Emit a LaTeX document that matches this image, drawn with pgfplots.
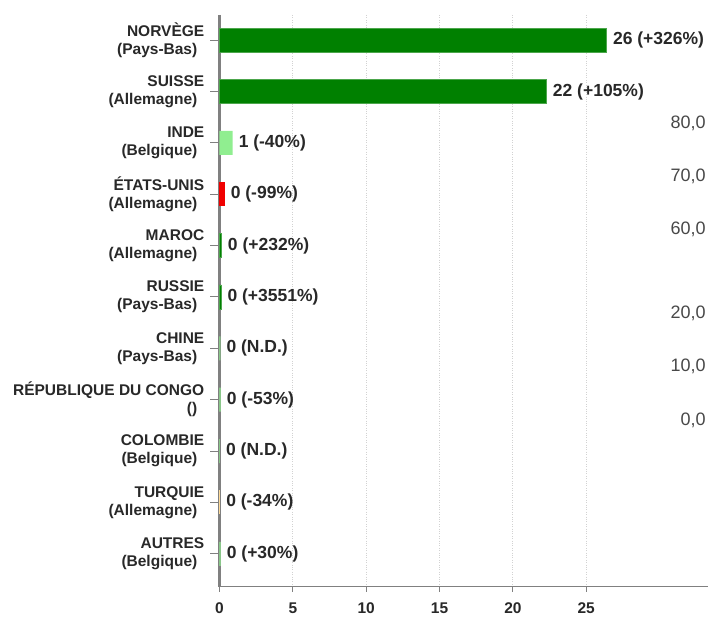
\documentclass[border=0pt]{standalone}
\usepackage{pgfplots}
\pgfplotsset{compat=1.18}
\usepackage{fontspec}
\setmainfont{Liberation Sans}
\definecolor{barDark}{RGB}{0,128,0}
\definecolor{barLight}{RGB}{144,238,144}
\definecolor{barRed}{RGB}{240,0,0}
\definecolor{barOrange}{RGB}{255,165,0}
\definecolor{axisgray}{RGB}{128,128,128}
\definecolor{labeltext}{RGB}{40,40,40}

\begin{document}
\begin{tikzpicture}
\begin{axis}[name=ax,
             scale only axis,
             width=488.5pt, height=571.7pt,
             xbar, bar width=24pt, bar shift=0pt,
             xmin=0, xmax=33.3,
             ymin=-0.49, ymax=10.64, y dir=reverse,
             axis x line*=bottom, axis y line*=left,
             axis line style={-, draw=axisgray},
             x axis line style={line width=1.5pt},
             y axis line style={line width=2.2pt},
             tick align=outside,
             major tick length=9pt,
             tick style={draw=axisgray, line width=1pt},
             xtick style={/pgfplots/major tick length=5pt},
             xtick={0,5,10,15,20,25},
             xticklabels={0,5,10,15,20,25},
             xticklabel style={font=\fontsize{15.5}{17}\selectfont\bfseries, text=labeltext, inner sep=0pt, yshift=-7pt},
             ytick={0,1,...,10},
             yticklabels={NORVÈGE\\(Pays-Bas)\hspace*{7pt},
                          SUISSE\\(Allemagne)\hspace*{7pt},
                          INDE\\(Belgique)\hspace*{7pt},
                          ÉTATS-UNIS\\(Allemagne)\hspace*{7pt},
                          MAROC\\(Allemagne)\hspace*{7pt},
                          RUSSIE\\(Pays-Bas)\hspace*{7pt},
                          CHINE\\(Pays-Bas)\hspace*{7pt},
                          RÉPUBLIQUE DU CONGO\\()\hspace*{7pt},
                          COLOMBIE\\(Belgique)\hspace*{7pt},
                          TURQUIE\\(Allemagne)\hspace*{7pt},
                          AUTRES\\(Belgique)\hspace*{7pt}},
             yticklabel style={font=\fontsize{15.5}{18}\selectfont\bfseries, text=labeltext, align=right, inner sep=0pt, xshift=-6pt},
             xmajorgrids,
             grid style={dotted, gray!35, line width=0.8pt},
             clip=false,
             nodes near coords,
             point meta=explicit symbolic,
             every node near coord/.append style={anchor=west, inner sep=0pt, xshift=6pt,
                 font=\fontsize{17.5}{20}\selectfont\bfseries, text=labeltext},
            ]

    % dark green
    \addplot[fill=barDark, draw=barDark!70!white, line width=0.6pt]
        coordinates {(26.4,0) [26 (+326\%)] (22.3,1) [22 (+105\%)]
                     (0.15,4) [0 (+232\%)] (0.12,5) [0 (+3551\%)]};
    % light green
    \addplot[fill=barLight, draw=none]
        coordinates {(0.89,2) [1 (-40\%)] (0.06,6) [0 (N.D.)] (0.08,7) [0 (-53\%)]
                     (0.03,8) [0 (N.D.)] (0.08,10) [0 (+30\%)]};
    % red
    \addplot[fill=barRed, draw=none]
        coordinates {(0.35,3) [0 (-99\%)]};
    % orange
    \addplot[fill=barOrange!40, draw=none]
        coordinates {(0.04,9) [0 (-34\%)]};

    % stray labels on the right side
    \begin{scope}[every node/.style={anchor=east, inner sep=0pt, text=labeltext!85,
                                     font=\fontsize{18}{20}\selectfont}]
    \node at (axis cs:33.16,1.617) {80,0};
    \node at (axis cs:33.16,2.65) {70,0};
    \node at (axis cs:33.16,3.68) {60,0};
    \node at (axis cs:33.16,5.32) {20,0};
    \node at (axis cs:33.16,6.35) {10,0};
    \node at (axis cs:33.16,7.40) {0,0};
    \end{scope}
\end{axis}
\pgfresetboundingbox
\useasboundingbox ([xshift=-219.5pt,yshift=-31.3pt]ax.south west) rectangle ([yshift=15pt]ax.north east);
\end{tikzpicture}
\end{document}
